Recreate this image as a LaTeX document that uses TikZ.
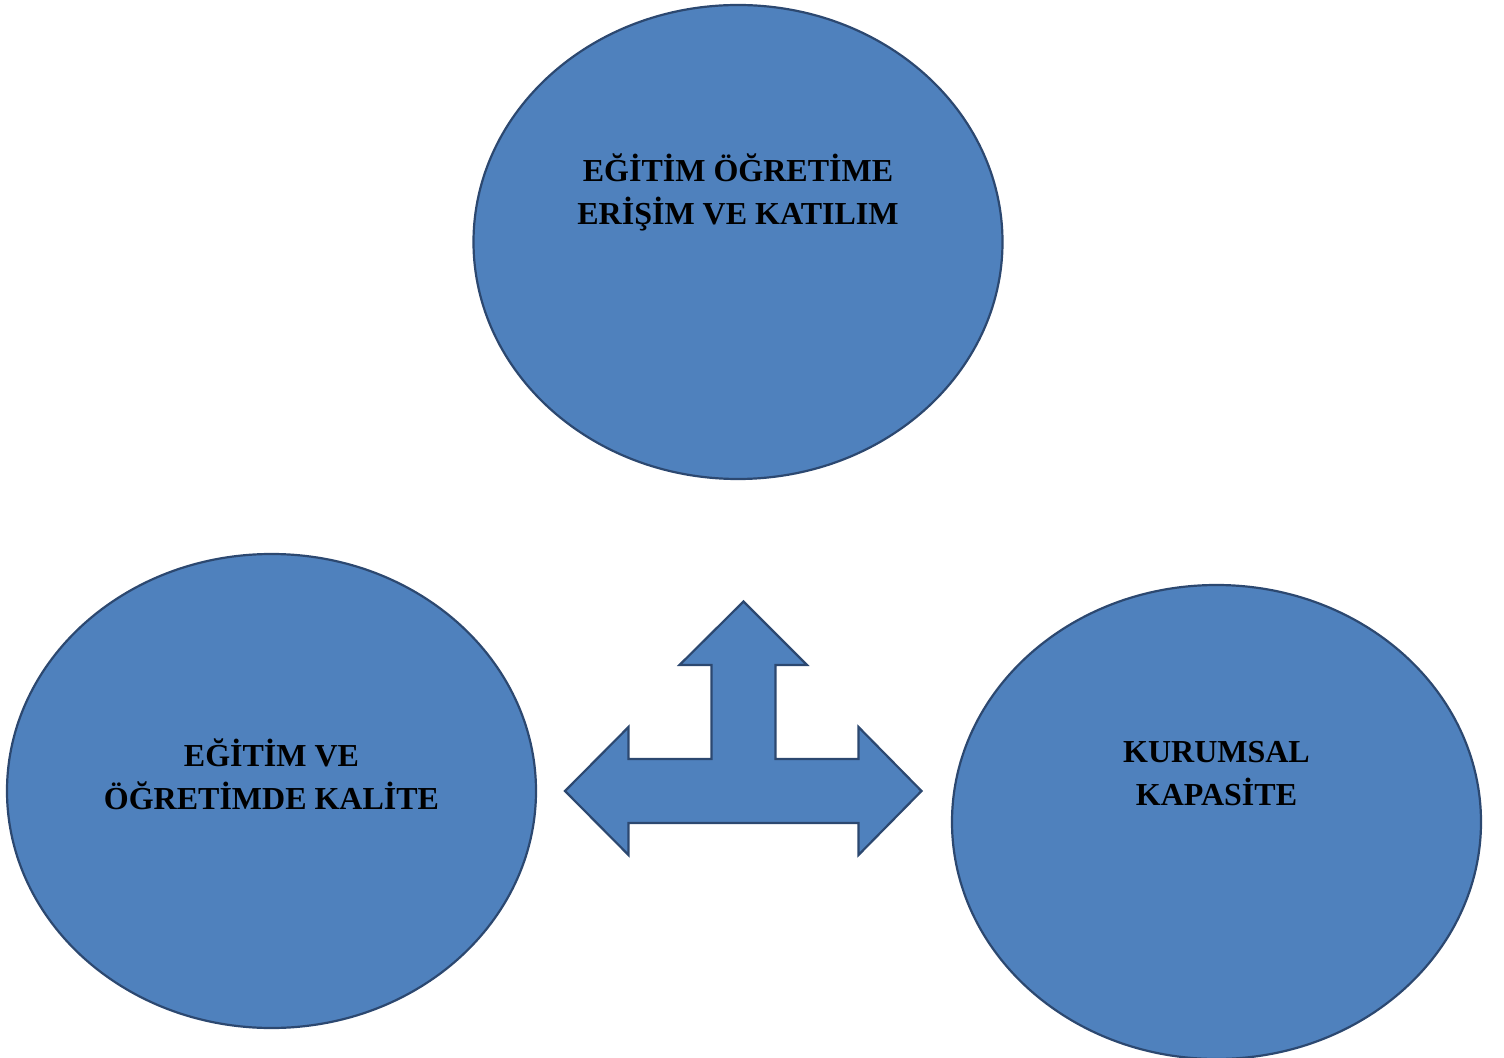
\documentclass[tikz,border=0pt]{standalone}
\usepackage{fontspec}
\setmainfont{Liberation Serif}
\usetikzlibrary{shapes.geometric}
\definecolor{fillb}{HTML}{4F81BD}
\definecolor{lineb}{HTML}{2C4870}
\begin{document}
\begin{tikzpicture}[x=0.5pt,y=-0.5pt,
  oval/.style={ellipse, draw=lineb, fill=fillb, line width=1.1pt, inner sep=0pt,
    minimum width=264.5pt, minimum height=237pt},
  lbl/.style={align=center, text=black, inner sep=0pt,
    font=\bfseries\fontsize{16}{21.5}\selectfont}]
\useasboundingbox (0,0) rectangle (1504,1058);
\node[oval] (top) at (738,242) {};
\node[oval] (left) at (271.5,791) {};
\node[oval] (right) at (1216.5,822) {};
\node[lbl] (ttop) at (738,192.5) {EĞİTİM ÖĞRETİME\\ERİŞİM VE KATILIM};
\node[lbl] (tleft) at (271.5,774) {EĞİTİM VE\\ÖĞRETİMDE KALİTE};
\node[lbl] (tright) at (1216.5,774) {KURUMSAL\\KAPASİTE};
\draw[draw=lineb, fill=fillb, line width=1.1pt, line join=miter]
  (743.5,601.5) -- (807,665) -- (775.5,665) -- (775.5,759) -- (858.5,759)
  -- (858.5,727) -- (921.5,791) -- (858.5,855) -- (858.5,823)
  -- (628.5,823) -- (628.5,855) -- (565,791) -- (628.5,727) -- (628.5,759)
  -- (711.5,759) -- (711.5,665) -- (679.5,665) -- cycle;
\end{tikzpicture}
\end{document}
